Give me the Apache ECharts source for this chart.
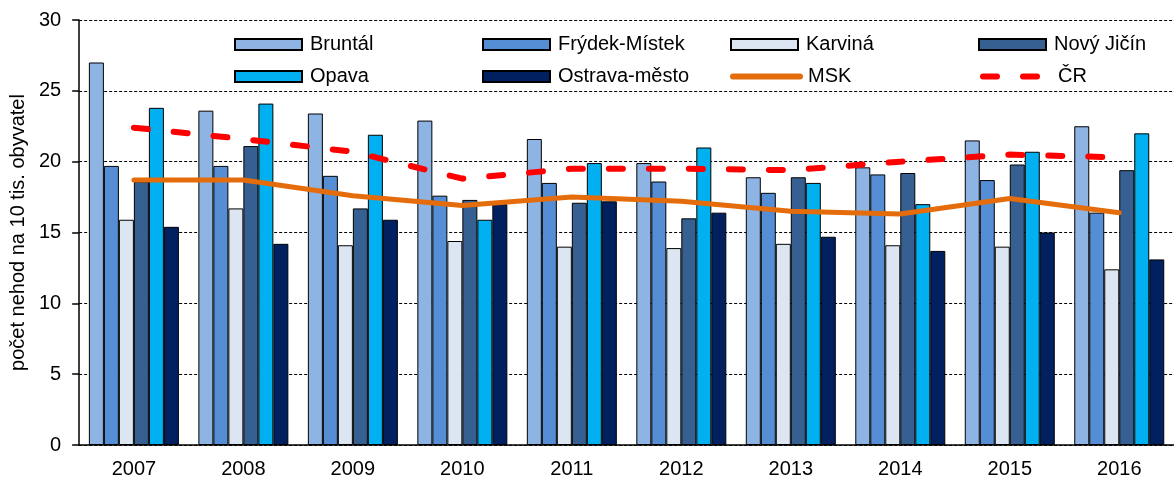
<!DOCTYPE html>
<html lang="cs">
  <head>
    <meta charset="UTF-8" />
    <title>Nehody</title>
    <style>
      body {
        margin: 0;
        background-color: #fff;
      }
      #chart {
        width: 1174px;
        height: 479px;
      }
    </style>
  </head>
  <body>
    <div id="chart"></div>
    <script src="https://cdn.jsdelivr.net/npm/echarts@6/dist/echarts.min.js"></script>
    <script>
      const years = ["2007", "2008", "2009", "2010", "2011", "2012", "2013", "2014", "2015", "2016"];

      const bruntal = [27.0, 23.6, 23.4, 22.9, 21.6, 19.9, 18.9, 19.6, 21.5, 22.5];
      const frydekMistek = [19.7, 19.7, 19.0, 17.6, 18.5, 18.6, 17.8, 19.1, 18.7, 16.4];
      const karvina = [15.9, 16.7, 14.1, 14.4, 14.0, 13.9, 14.2, 14.1, 14.0, 12.4];
      const novyJicin = [18.6, 21.1, 16.7, 17.3, 17.1, 16.0, 18.9, 19.2, 19.8, 19.4];
      const opava = [23.8, 24.1, 21.9, 15.9, 19.9, 21.0, 18.5, 17.0, 20.7, 22.0];
      const ostrava = [15.4, 14.2, 15.9, 17.0, 17.2, 16.4, 14.7, 13.7, 15.0, 13.1];
      const msk = [18.7, 18.7, 17.6, 16.9, 17.5, 17.2, 16.5, 16.3, 17.4, 16.4];
      const cr = [22.4, 21.6, 20.7, 18.8, 19.5, 19.5, 19.4, 20.0, 20.5, 20.3];

      const font = "'Liberation Sans', Arial, sans-serif";

      function barSeries(name, color, data) {
        return {
          name: name,
          type: "bar",
          data: data,
          barWidth: 15,
          barGap: "0%",
          itemStyle: { color: color, borderColor: "#000", borderWidth: 1 },
        };
      }

      const chart = echarts.init(document.getElementById("chart"));
      chart.setOption({
        animation: false,
        backgroundColor: "#fff",
        textStyle: { fontFamily: font },
        grid: { left: 79, top: 20, width: 1106, bottom: 31 },
        legend: {
          left: 234,
          top: 32,
          width: 1000,
          padding: 0,
          itemGap: 7,
          itemWidth: 67,
          itemHeight: 11,
          textStyle: {
            fontFamily: font,
            fontSize: 20,
            color: "#000",
            width: 165,
            lineHeight: 25,
            padding: [0, 0, 0, 3],
          },
          data: [
            { name: "Bruntál", icon: "rect" },
            { name: "Frýdek-Místek", icon: "rect" },
            { name: "Karviná", icon: "rect" },
            { name: "Nový Jičín", icon: "rect" },
            { name: "Opava", icon: "rect" },
            { name: "Ostrava-město", icon: "rect" },
            { name: "MSK", itemStyle: { opacity: 0 }, lineStyle: { width: 6, cap: "round" } },
            {
              name: "ČR",
              itemStyle: { opacity: 0 },
              lineStyle: { width: 6, type: [14, 26], cap: "round" },
            },
          ],
        },
        xAxis: {
          type: "category",
          data: years,
          axisLine: { lineStyle: { color: "#000", width: 1.5 } },
          axisTick: { length: 7, lineStyle: { color: "#000", width: 1.5 } },
          axisLabel: { color: "#000", fontSize: 20, fontFamily: font, margin: 14 },
        },
        yAxis: {
          type: "value",
          min: 0,
          max: 30,
          interval: 5,
          name: "počet nehod na 10 tis. obyvatel",
          nameLocation: "middle",
          nameRotate: 90,
          nameGap: 48,
          nameTextStyle: { color: "#000", fontSize: 20, fontFamily: font },
          axisLine: { show: true, lineStyle: { color: "#000", width: 1.5 } },
          axisTick: { show: true, length: 7, lineStyle: { color: "#000", width: 1.5 } },
          axisLabel: { color: "#000", fontSize: 20, fontFamily: font, margin: 18 },
          splitLine: { lineStyle: { color: "#000", type: [3, 2], width: 1 } },
        },
        series: [
          barSeries("Bruntál", "#8EB4E3", bruntal),
          barSeries("Frýdek-Místek", "#558ED5", frydekMistek),
          barSeries("Karviná", "#DCE6F2", karvina),
          barSeries("Nový Jičín", "#376092", novyJicin),
          barSeries("Opava", "#00B0F0", opava),
          barSeries("Ostrava-město", "#002060", ostrava),
          {
            name: "MSK",
            type: "line",
            data: msk,
            symbol: "none",
            z: 5,
            itemStyle: { color: "#E46C0A" },
            lineStyle: { color: "#E46C0A", width: 5, cap: "round" },
          },
          {
            name: "ČR",
            type: "line",
            data: cr,
            symbol: "none",
            z: 5,
            itemStyle: { color: "#FF0000" },
            lineStyle: { color: "#FF0000", width: 6, type: [14, 26], cap: "round" },
          },
        ],
      });
    </script>
  </body>
</html>
